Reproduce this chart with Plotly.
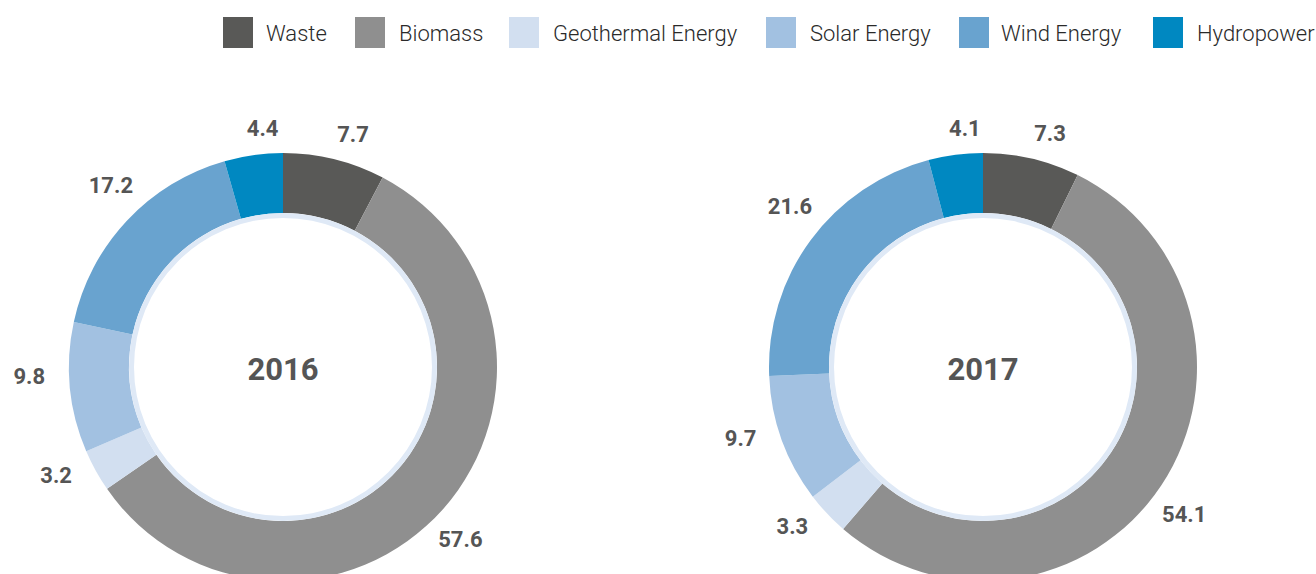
import math
import plotly.graph_objects as go

# ---- data ----
categories = ["Waste", "Biomass", "Geothermal Energy", "Solar Energy", "Wind Energy", "Hydropower"]
values_2016 = [7.7, 57.6, 3.2, 9.8, 17.2, 4.4]
values_2017 = [7.3, 54.1, 3.3, 9.7, 21.6, 4.1]
years = ["2016", "2017"]

# ---- styles / layout ----
colors = ["#595957", "#8f8f8f", "#d2dff0", "#a2c1e1", "#69a3cf", "#0088c1"]
ring_color = "#dfe9f6"
W, H = 1316, 630
centers_x = [283, 983]
center_y = 367
R_outer = 214
R_inner = 154
R_ring_in = 149
R_label_base = 236      # label distance from centre (top/bottom)
label_half_w = 18       # extra distance at the sides (text half-width)
label_rot = 3           # small angular shift of labels (degrees)
R_polar = 262

fig = go.Figure()


def dom(cx, cy, r):
    return dict(x=[(cx - r) / W, (cx + r) / W],
                y=[(H - cy - r) / H, (H - cy + r) / H])


def mid_angles(vals):
    total = sum(vals)
    out, acc = [], 0.0
    for v in vals:
        out.append((acc + v / 2) / total * 360)
        acc += v
    return out


layout_polars = {}
for i, (cx, vals, yr) in enumerate(zip(centers_x, [values_2016, values_2017], years)):
    fig.add_trace(go.Pie(
        labels=categories, values=vals, sort=False, direction="clockwise", rotation=0,
        hole=R_inner / R_outer, domain=dom(cx, center_y, R_outer),
        marker=dict(colors=colors, line=dict(width=0)),
        textinfo="none",
        title=dict(text=yr, position="middle center",
                   font=dict(family="Roboto", size=31, color="#555555", weight="bold")),
        showlegend=False, hoverinfo="label+value",
    ))
    fig.add_trace(go.Pie(
        labels=["ring"], values=[1], sort=False, hole=R_ring_in / R_inner,
        domain=dom(cx, center_y, R_inner),
        marker=dict(colors=[ring_color], line=dict(width=0)),
        textinfo="none", hoverinfo="skip", showlegend=False,
    ))
    thetas = [a + label_rot for a in mid_angles(vals)]
    radii = [R_label_base + label_half_w * abs(math.sin(math.radians(t))) for t in thetas]
    pname = "polar" if i == 0 else f"polar{i + 1}"
    fig.add_trace(go.Scatterpolar(
        r=radii, theta=thetas, mode="text",
        text=[f"{v:.1f}" for v in vals], textposition="middle center",
        textfont=dict(family="Roboto", size=22, color="#555555", weight="bold"),
        cliponaxis=False, showlegend=False, hoverinfo="skip", subplot=pname,
    ))
    layout_polars[pname] = dict(
        domain=dom(cx, center_y, R_polar), bgcolor="rgba(0,0,0,0)",
        radialaxis=dict(range=[0, R_polar], visible=False),
        angularaxis=dict(rotation=90, direction="clockwise", visible=False),
    )

# custom legend (large swatches)
swatch_x = [223, 355, 509, 766, 959, 1153]
text_x = [264, 397, 551, 808, 999, 1195]
sw_w, sw_top, sw_bot, leg_y = 30, 17, 48, 33
shapes = []
annotations = []
for name, col, sx, tx in zip(categories, colors, swatch_x, text_x):
    shapes.append(dict(type="rect", xref="paper", yref="paper",
                       x0=sx / W, x1=(sx + sw_w) / W, y0=1 - sw_bot / H, y1=1 - sw_top / H,
                       fillcolor=col, line=dict(width=0)))
    annotations.append(dict(text=name, xref="paper", yref="paper", x=tx / W, y=1 - leg_y / H,
                            xanchor="left", yanchor="middle", showarrow=False,
                            font=dict(family="Roboto", size=22, color="#2a2a2a", weight=300)))

fig.update_layout(
    width=W, height=H, margin=dict(l=0, r=0, t=0, b=0),
    paper_bgcolor="white", plot_bgcolor="white",
    shapes=shapes, annotations=annotations,
    **layout_polars,
)

fig.write_html("out.html")
